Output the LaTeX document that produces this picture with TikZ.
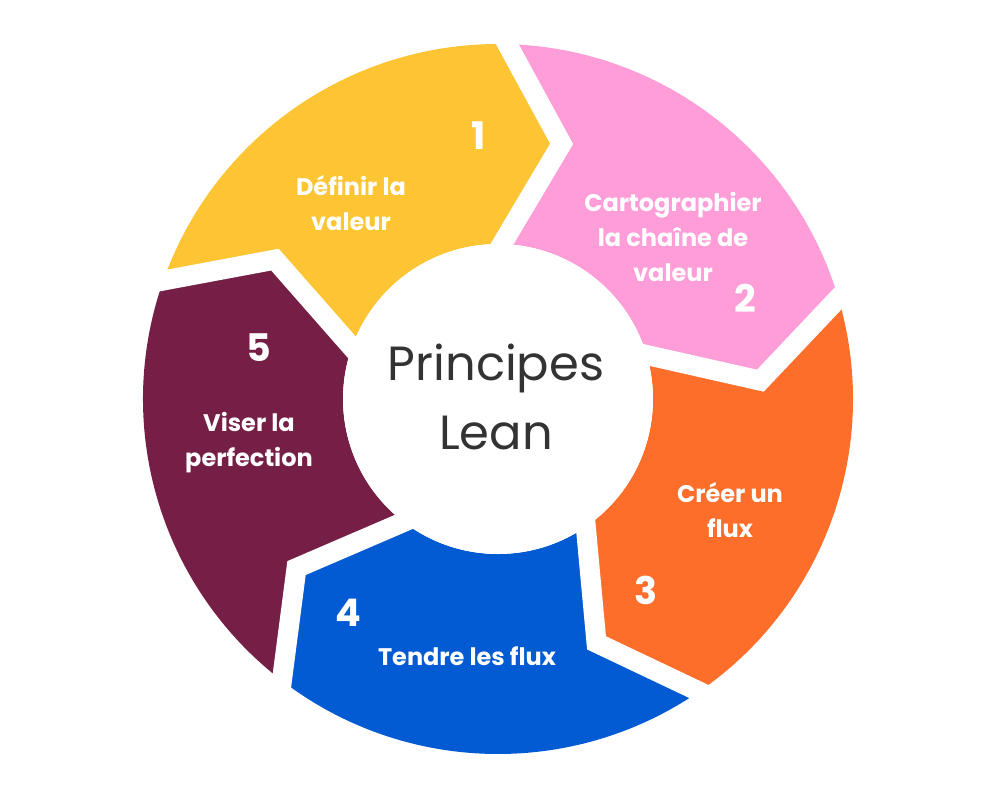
\documentclass[tikz,border=0pt]{standalone}
\usepackage{fontspec}
\setmainfont{Poppins}
\usetikzlibrary{calc}
\definecolor{cyellow}{HTML}{FDC433}
\definecolor{cpink}{HTML}{FE9DD8}
\definecolor{corange}{HTML}{FE6E2B}
\definecolor{cblue}{HTML}{025BD2}
\definecolor{cmaroon}{HTML}{761F46}
\definecolor{ctext}{HTML}{333333}
\begin{document}
\begin{tikzpicture}[x=0.5pt,y=0.5pt,
  gapline/.style={draw=white,line width=10pt,line join=miter,miter limit=20,line cap=butt},
  lbl/.style={text=white,font=\bfseries\fontsize{12}{17.5}\selectfont,align=center,inner sep=0pt},
  num/.style={text=white,font=\bfseries\fontsize{19}{22}\selectfont,inner sep=0pt},
  hub/.style={circle,fill=white,minimum size=155pt,inner sep=0pt},
  hubtext/.style={text=ctext,font=\fontsize{24}{34.5}\selectfont,align=center,inner sep=0pt}]
\useasboundingbox (-498,-401) rectangle (502,399);
% ring segments (chevron arrows, clockwise)
\foreach \a/\c in {160.5/cyellow, 88.5/cpink, 16.5/corange, -55.5/cblue, -127.5/cmaroon}{
  \pgfmathsetmacro\e{\a-72}
  \pgfmathsetmacro\et{\a-84.5}
  \pgfmathsetmacro\st{\a-12.5}
  \fill[\c] (\a:177.5pt) arc[start angle=\a, end angle=\e, radius=177.5pt]
    -- (\et:131.5pt) -- (\e:77.5pt)
    arc[start angle=\e, end angle=\a, radius=77.5pt]
    -- (\st:131.5pt) -- cycle;
}
% white gaps between segments
\foreach \b in {160.5, 88.5, 16.5, -55.5, -127.5}{
  \pgfmathsetmacro\bt{\b-12.5}
  \coordinate (go) at (\b:177.5pt);
  \coordinate (gt) at (\bt:131.5pt);
  \coordinate (gi) at (\b:77.5pt);
  \draw[gapline] ($(gt)!1.4!(go)$) -- (gt) -- ($(gt)!1.3!(gi)$);
}
% hub
\node[hub] (hub) at (0,0) {};
\node[hubtext] (title) at (-2,2.5) {Principes\\Lean};
% labels
\node[lbl] (l1) at (-147,195.5) {Définir la\\valeur};
\node[lbl] (l2) at (175,162) {Cartographier\\la chaîne de\\valeur};
\node[lbl] (l3) at (232,-111) {Créer un\\flux};
\node[lbl] (l4) at (-31,-257) {Tendre les flux};
\node[lbl] (l5) at (-249,-44) {Viser la\\perfection};
% numbers
\node[num] (n1) at (-19,263) {1};
\node[num] (n2) at (247,101) {2};
\node[num] (n3) at (148,-191) {3};
\node[num] (n4) at (-150,-214) {4};
\node[num] (n5) at (-239,51) {5};
\end{tikzpicture}
\end{document}
